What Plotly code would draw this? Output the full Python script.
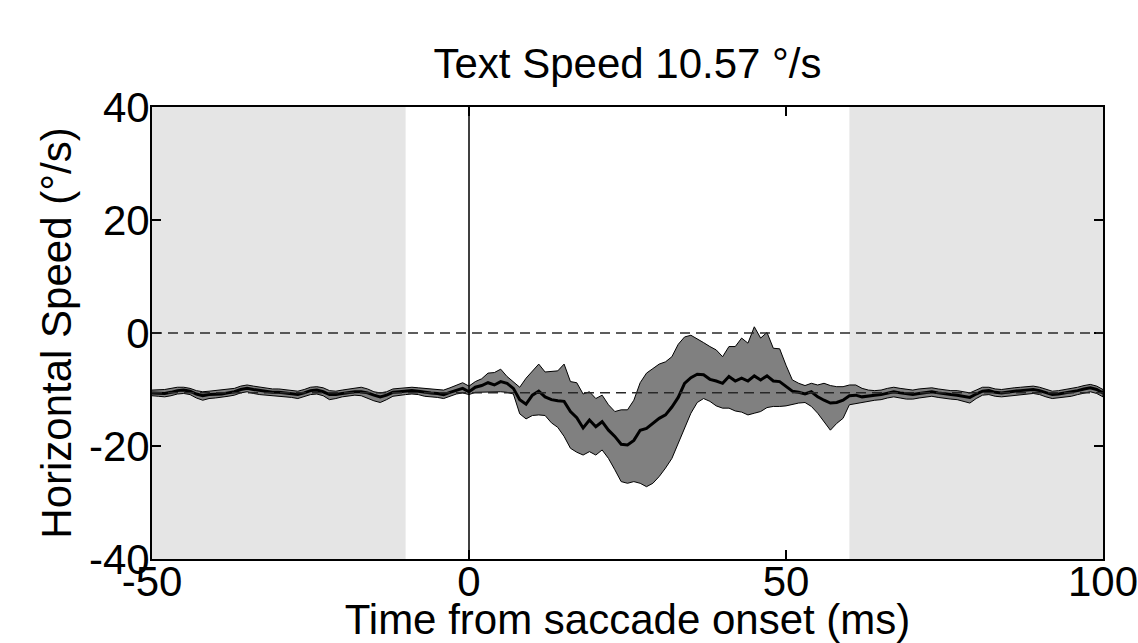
import plotly.graph_objects as go

# Horizontal eye speed around saccade onset, mean +/- spread
text_speed = 10.57
time_ms = list(range(-50, 101))

mean_speed = [
    -10.6, -10.7, -10.7, -10.5, -10.2, -10.1, -10.3, -10.8, -11.1, -10.9,
    -10.9, -10.8, -10.6, -10.4, -10.0, -9.8, -10.0, -10.2, -10.4, -10.5,
    -10.5, -10.6, -10.8, -10.9, -10.6, -10.2, -10.1, -10.4, -10.9, -10.9,
    -10.7, -10.5, -10.4, -10.4, -10.6, -11.0, -11.3, -11.0, -10.5, -10.4,
    -10.3, -10.2, -10.3, -10.5, -10.6, -10.7, -10.9, -10.5, -10.1, -9.8,
    -10.4, -9.6, -9.3, -8.8, -9.2, -8.6, -8.9, -9.8, -11.8, -12.6,
    -11.0, -10.3, -11.3, -11.8, -12.0, -12.1, -13.9, -15.0, -16.8, -15.4,
    -16.6, -15.7, -17.2, -18.3, -19.7, -19.8, -19.0, -17.2, -16.9, -16.0,
    -15.1, -14.5, -13.1, -11.4, -8.9, -7.9, -7.3, -7.4, -8.2, -8.5,
    -8.9, -7.7, -8.5, -8.0, -8.5, -7.6, -8.3, -7.6, -8.5, -8.6,
    -9.5, -10.3, -10.5, -10.8, -10.4, -11.3, -11.9, -12.4, -12.3, -11.9,
    -11.1, -11.0, -11.3, -11.1,
    -11.0, -10.9, -10.6, -10.4, -10.6, -10.8, -10.9, -10.7, -10.5, -10.4,
    -10.6, -10.8, -10.9, -11.0, -11.2, -11.4, -10.8, -10.3, -10.2, -10.5,
    -10.6, -10.4, -10.3, -10.2, -10.1, -10.0, -10.2, -10.6, -10.9, -10.8,
    -10.6, -10.5, -10.2, -9.9, -9.7, -10.0, -10.6,
]

upper_speed = [
    -10.1, -10.1, -10.0, -9.8, -9.6, -9.6, -9.8, -10.2, -10.4, -10.3,
    -10.2, -10.1, -10.0, -9.8, -9.4, -9.2, -9.4, -9.6, -9.8, -9.9,
    -9.9, -10.0, -10.2, -10.3, -10.0, -9.6, -9.5, -9.7, -10.2, -10.3,
    -10.1, -9.9, -9.7, -9.6, -9.9, -10.4, -10.6, -10.4, -9.9, -9.8,
    -9.7, -9.6, -9.7, -9.8, -9.9, -10.0, -10.1, -9.7, -9.2, -8.8,
    -9.4, -8.6, -8.1, -7.1, -7.0, -6.4, -7.7, -8.6, -9.6, -8.0,
    -6.8, -5.5, -6.9, -6.8, -6.7, -5.5, -8.6, -8.8, -10.8, -10.4,
    -11.6, -11.0, -12.7, -13.9, -13.6, -13.6, -11.9, -8.8, -7.1, -6.3,
    -5.5, -5.1, -4.2, -2.0, -0.7, -0.4, -1.0, -1.7, -2.4, -3.0,
    -4.2, -2.4, -2.4, -0.9, -1.8, 1.1, -0.9, 0.1, -2.7, -2.8,
    -5.7, -8.3, -8.9, -9.3, -8.9, -9.2, -8.9, -9.3, -9.5, -9.5,
    -9.2, -9.2, -9.8, -10.1,
    -10.2, -10.1, -9.8, -9.6, -9.8, -10.0, -10.1, -9.9, -9.8, -9.7,
    -9.9, -10.1, -10.2, -10.2, -10.4, -10.6, -10.1, -9.6, -9.6, -9.9,
    -10.0, -9.8, -9.7, -9.6, -9.5, -9.4, -9.6, -10.0, -10.3, -10.2,
    -10.0, -9.9, -9.6, -9.3, -9.1, -9.4, -10.0,
]

lower_speed = [
    -11.1, -11.2, -11.3, -11.1, -10.8, -10.7, -10.9, -11.5, -11.9, -11.6,
    -11.5, -11.4, -11.2, -11.0, -10.6, -10.4, -10.7, -10.9, -11.1, -11.2,
    -11.2, -11.3, -11.4, -11.6, -11.3, -10.9, -10.8, -11.1, -11.8, -11.6,
    -11.3, -11.1, -11.0, -11.1, -11.5, -12.0, -12.3, -11.8, -11.2, -11.0,
    -10.9, -10.8, -10.9, -11.2, -11.3, -11.4, -11.6, -11.2, -10.8, -10.6,
    -10.9, -10.5, -10.4, -10.4, -10.4, -10.4, -10.5, -10.8, -14.3, -15.2,
    -14.6, -14.5, -14.6, -15.9, -16.7, -18.3, -20.4, -21.1, -21.6, -21.0,
    -21.6, -20.7, -22.2, -24.2, -26.3, -26.6, -26.3, -26.6, -27.2, -26.6,
    -25.4, -23.9, -22.2, -19.8, -16.9, -14.2, -12.3, -11.6, -12.1, -12.9,
    -13.3, -13.3, -13.8, -14.0, -14.5, -14.2, -13.9, -13.2, -13.0, -13.0,
    -12.9, -12.7, -12.4, -12.3, -13.0, -14.2, -15.7, -17.2, -16.0, -15.1,
    -12.7, -12.4, -12.3, -12.1,
    -11.9, -11.8, -11.5, -11.3, -11.5, -11.7, -11.7, -11.5, -11.3, -11.2,
    -11.4, -11.6, -11.7, -11.8, -12.1, -12.4, -11.6, -11.0, -10.9, -11.2,
    -11.3, -11.1, -11.0, -10.9, -10.8, -10.7, -10.9, -11.3, -11.6, -11.5,
    -11.3, -11.2, -10.9, -10.6, -10.4, -10.7, -11.3,
]

# grey windows (ms)
windows = [(-50, -10), (60, 100)]

x_ticks = [-50, 0, 50, 100]
x_ticktext = ["-50", "0", "50", "100"]
y_ticks = [-40, -20, 0, 20, 40]
y_ticktext = ["-40", "-20", "0", "20", "40"]

font_name = "Liberation Sans, Arial, sans-serif"
fsize = 42

fig = go.Figure()

# spread band
fig.add_trace(go.Scatter(
    x=time_ms + time_ms[::-1],
    y=upper_speed + lower_speed[::-1],
    fill="toself",
    fillcolor="rgb(128,128,128)",
    line=dict(color="black", width=1),
    mode="lines",
    hoverinfo="skip",
))

# mean
fig.add_trace(go.Scatter(
    x=time_ms, y=mean_speed,
    mode="lines",
    line=dict(color="black", width=3),
))

for x0, x1 in windows:
    fig.add_shape(type="rect", x0=x0, x1=x1, y0=-40, y1=40,
                  fillcolor="rgb(229,229,229)", line_width=0, layer="below")

# reference lines
fig.add_shape(type="line", x0=-50, x1=100, y0=0, y1=0, layer="above",
              line=dict(color="rgb(40,40,40)", width=1.5, dash="10px,6px"))
fig.add_shape(type="line", x0=-50, x1=100, y0=-text_speed, y1=-text_speed, layer="above",
              line=dict(color="rgb(40,40,40)", width=1.5, dash="10px,6px"))
fig.add_shape(type="line", x0=0, x1=0, y0=-40, y1=40, layer="above",
              line=dict(color="black", width=1.5))

fig.update_layout(
    width=1138, height=643,
    title=dict(text="Text Speed %.2f °/s" % text_speed, x=0.5, xanchor="center",
               xref="paper", y=1 - 63 / 643, yanchor="middle",
               font=dict(size=fsize, color="black", family=font_name)),
    showlegend=False,
    plot_bgcolor="white",
    paper_bgcolor="white",
    font=dict(family=font_name, size=fsize, color="black"),
    margin=dict(l=152, r=35, t=107, b=84, autoexpand=False),
)

fig.update_xaxes(
    range=[-50, 100], tickvals=x_ticks, ticktext=x_ticktext, ticks="inside", ticklen=9,
    tickwidth=1.5, tickcolor="black", showline=True, linecolor="black", linewidth=2,
    mirror="ticks", showgrid=False, zeroline=False,
    tickfont=dict(size=fsize), automargin=False, ticklabeloverflow="allow",
    ticklabelstandoff=-15,
    title=dict(text="Time from saccade onset (ms)", standoff=17,
               font=dict(size=fsize, family=font_name)),
)
fig.update_yaxes(
    range=[-40, 40], tickvals=y_ticks, ticktext=y_ticktext, ticks="inside", ticklen=9,
    tickwidth=1.5, tickcolor="black", showline=True, linecolor="black", linewidth=2,
    mirror="ticks", showgrid=False, zeroline=False,
    tickfont=dict(size=fsize), automargin=False, ticklabeloverflow="allow",
    ticklabelstandoff=-8,
    title=dict(text="Horizontal Speed (°/s)", standoff=4,
               font=dict(size=fsize, family=font_name)),
)

fig.write_html("out.html", config={"displayModeBar": False},
               post_script="document.body.style.margin='0';")
